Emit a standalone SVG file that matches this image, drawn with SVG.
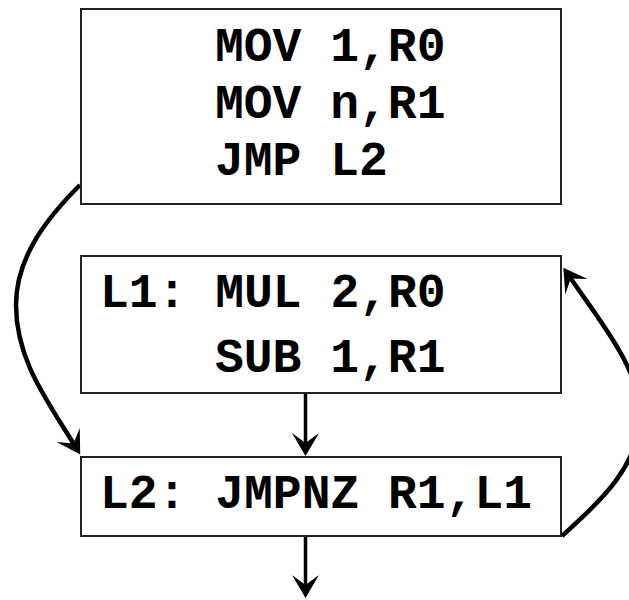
<svg xmlns="http://www.w3.org/2000/svg" width="629" height="600" viewBox="0 0 629 600">
  <style>
    .box { fill: #ffffff; stroke: #222222; stroke-width: 2; }
    .code { font-family: "Courier New", "Nimbus Mono PS", "Nimbus Mono L", "FreeMono", "Liberation Mono", monospace; font-weight: bold; font-size: 48px; fill: #000000; }
    .edge { fill: none; stroke: #000000; stroke-width: 3.5; }
    .curve { fill: none; stroke: #000000; stroke-width: 4.5; }
  </style>
  <defs>
    <marker id="arrow" markerUnits="userSpaceOnUse" viewBox="-25 -15 27 30" refX="-10" refY="0" markerWidth="27" markerHeight="30" orient="auto">
      <path d="M0,0 L-23,-13.5 L-13,0 L-23,13.5 Z" fill="#000000"/>
    </marker>
  </defs>
  <rect width="629" height="600" fill="#ffffff"/>

  <g id="connectors">
    <path class="edge" d="M305.5,393 L305.5,446" marker-end="url(#arrow)"/>
    <path class="edge" d="M305.5,536 L305.5,588" marker-end="url(#arrow)"/>
    <path class="curve" d="M80,185 C50,215 16,255 16,305 C16,360 47,400 75,446" marker-end="url(#arrow)"/>
    <path class="curve" d="M562,536 C590,510 640,470 640,415 C640,370 603,325 569,276" marker-end="url(#arrow)"/>
  </g>

  <g id="block1">
    <rect class="box" x="81" y="9" width="480" height="195"/>
    <text class="code" x="215" y="61">MOV 1,R0</text>
    <text class="code" x="215" y="118">MOV n,R1</text>
    <text class="code" x="215" y="175">JMP L2</text>
  </g>

  <g id="block2">
    <rect class="box" x="81" y="256" width="480" height="137"/>
    <text class="code" x="100" y="307">L1: MUL 2,R0</text>
    <text class="code" x="215" y="372">SUB 1,R1</text>
  </g>

  <g id="block3">
    <rect class="box" x="81" y="457" width="480" height="79"/>
    <text class="code" x="100" y="508">L2: JMPNZ R1,L1</text>
  </g>
</svg>
